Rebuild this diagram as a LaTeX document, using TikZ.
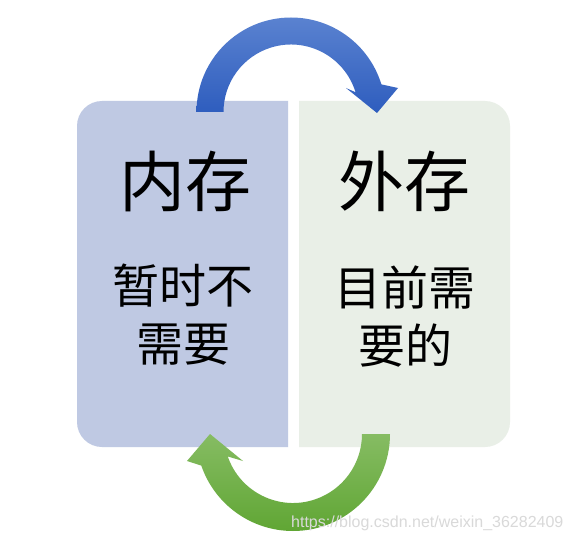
\documentclass[tikz,border=0pt]{standalone}
\usepackage{fontspec}
\newfontfamily\cjk{Noto Sans CJK SC}
\newfontfamily\wmfont{Liberation Sans}
\usetikzlibrary{calc}
\definecolor{leftbox}{HTML}{BFC9E3}
\definecolor{rightbox}{HTML}{E9EFE7}
\definecolor{bluetop}{HTML}{5A82D0}
\definecolor{bluebot}{HTML}{2E5DBE}
\definecolor{greentop}{HTML}{86BC63}
\definecolor{greenbot}{HTML}{60A634}
\tikzset{
  bigtext/.style={font=\cjk\fontsize{66}{72}\selectfont, inner sep=0pt},
  smalltext/.style={font=\cjk\fontsize{47}{58}\selectfont, align=center, inner sep=0pt},
  watermark/.style={font=\wmfont\fontsize{16}{18}\selectfont, text=gray!30, inner sep=0pt}
}
\begin{document}
\begin{tikzpicture}[x=1pt,y=1pt]
\useasboundingbox[fill=white] (0,0) rectangle (573,542);
% boxes
\fill[leftbox] (288,441) -- (288,95) [rounded corners=25pt] -- (77,95) -- (77,441) [sharp corners] -- cycle;
\fill[rightbox] (299,95) [rounded corners=25pt] -- (510,95) -- (510,441) [sharp corners] -- (299,441) -- cycle;
% top blue arrow
\coordinate (ct) at (291,430);
\shade[top color=bluetop, bottom color=bluebot]
  ($(ct)+(180:94.5)$) arc[start angle=180, end angle=17, radius=94.5]
  -- (398,454) -- (377,429) -- (346,454)
  -- ($(ct)+(17:67.5)$) arc[start angle=17, end angle=180, radius=67.5] -- cycle;
% bottom green arrow
\coordinate (cb) at (293,108);
\shade[top color=greentop, bottom color=greenbot]
  ($(cb)+(0:97)$) arc[start angle=0, end angle=-161, radius=97]
  -- (187,81) -- (210,108) -- (243,81)
  -- ($(cb)+(-161:69)$) arc[start angle=-161, end angle=0, radius=69] -- cycle;
% texts
\node[bigtext] (nc) at (185,361) {内存};
\node[smalltext] (nct) at (183,227) {暂时不\\需要};
\node[bigtext] (wc) at (404,361) {外存};
\node[smalltext] (wct) at (405,225) {目前需\\要的};
\node[watermark, anchor=west] (wm) at (291,19) {https://blog.csdn.net/weixin\_36282409};
\end{tikzpicture}
\end{document}
